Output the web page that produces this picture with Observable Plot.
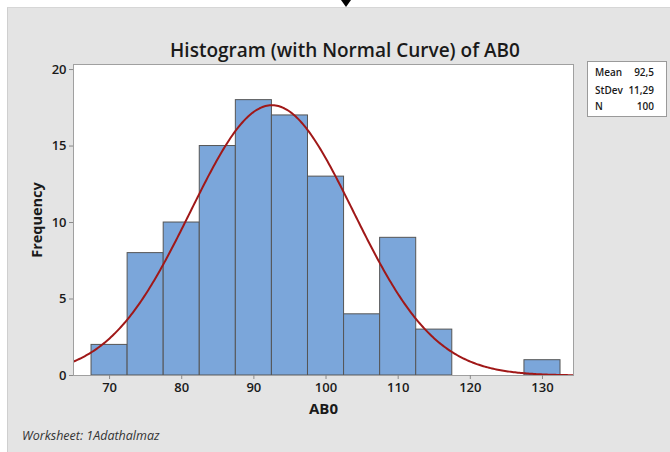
<!DOCTYPE html>
<html><head><meta charset="utf-8">
<script src="https://cdn.jsdelivr.net/npm/d3@7"></script>
<script src="https://cdn.jsdelivr.net/npm/@observablehq/plot@0.6"></script>
<style>
body{margin:0;background:#fff;width:670px;height:452px;overflow:hidden;position:relative;font-family:"Open Sans",sans-serif;}
#panel{position:absolute;left:7px;top:7px;right:0;bottom:0;background:#e4e4e4;border-left:1px solid #cfcfcf;border-top:1px solid #d6d6d6;}
#tri{position:absolute;left:341px;top:0;width:0;height:0;border-left:5px solid transparent;border-right:5px solid transparent;border-top:7px solid #000;}
#title{position:absolute;left:0;width:690px;top:41px;text-align:center;font-size:19px;font-weight:600;line-height:1;color:#1a1a1a;}
#chart{position:absolute;left:0;top:0;}
#chart g[aria-label$="tick label"]{font-size:13px;font-weight:600;}
#legend{position:absolute;left:587px;top:61px;width:78px;height:54px;background:#fff;border:1px solid #9a9a9a;}
.lr{position:absolute;font-size:10px;font-weight:600;line-height:1;color:#1a1a1a;}
.lk{left:7px;}
.lv{right:12px;text-align:right;}
#ws{position:absolute;left:22px;top:430px;font-size:12.5px;font-style:italic;line-height:1;color:#333;}
</style></head>
<body>
<div id="panel"></div>
<div id="tri"></div>
<div id="title">Histogram (with Normal Curve) of AB0</div>
<div id="chart"></div>
<div id="legend"></div>
<div id="ws">Worksheet: 1Adathalmaz</div>
<script>
const binMids = [70, 75, 80, 85, 90, 95, 100, 105, 110, 115, 120, 125, 130];
const counts  = [2, 8, 10, 15, 18, 17, 13, 4, 9, 3, 0, 0, 1];
const binWidth = 5;
const statLabels = ["Mean", "StDev", "N"];
const statValues = ["92,5", "11,29", "100"];
const MEAN = 92.5, STDEV = 11.29, N = 100;
const xTicks = [70, 80, 90, 100, 110, 120, 130];
const yTicks = [0, 5, 10, 15, 20];

const bins = binMids.map((m, i) => ({x1: m - binWidth / 2, x2: m + binWidth / 2, count: counts[i]})).filter(d => d.count > 0);

const curve = d3.range(65, 134.41, 0.2).map(x => ({
  x, y: N * binWidth * Math.exp(-0.5 * ((x - MEAN) / STDEV) ** 2) / (STDEV * Math.sqrt(2 * Math.PI))
}));

const chart = Plot.plot({
  width: 670, height: 452,
  marginLeft: 73, marginRight: 97, marginTop: 64, marginBottom: 77,
  style: {background: "transparent", color: "#1a1a1a", fontFamily: "Open Sans, sans-serif", overflow: "visible"},
  x: {domain: [65, 134.3]},
  y: {domain: [0, 20.33]},
  marks: [
    Plot.frame({fill: "white", stroke: "none"}),
    Plot.rectY(bins, {x1: "x1", x2: "x2", y: "count", fill: "#7ba6da", stroke: "#555555", strokeWidth: 1}),
    Plot.line(curve, {x: "x", y: "y", stroke: "#a01818", strokeWidth: 2, clip: true, curve: "linear"}),
    Plot.frame({stroke: "#a0a0a0", strokeWidth: 1}),
    Plot.axisX({ticks: xTicks, tickSize: 4, tickPadding: 3, stroke: "#8a8a8a", fill: "#1a1a1a", label: null}),
    Plot.axisY({ticks: yTicks, tickSize: 4, tickPadding: 3, stroke: "#8a8a8a", fill: "#1a1a1a", label: null}),
    Plot.text(["AB0"], {frameAnchor: "bottom", dy: 34, lineAnchor: "middle", fontSize: 15, fontWeight: "bold", fill: "#1a1a1a"}),
    Plot.text(["Frequency"], {frameAnchor: "left", dx: -36.5, rotate: -90, textAnchor: "middle", lineAnchor: "middle", fontSize: 14.5, fontWeight: "bold", fill: "#1a1a1a"})
  ]
});
document.getElementById("chart").appendChild(chart);

const legend = document.getElementById("legend");
const tops = [5, 23, 39];
statLabels.forEach((k, i) => {
  const a = document.createElement("div");
  a.className = "lr lk"; a.style.top = tops[i] + "px"; a.textContent = k;
  const b = document.createElement("div");
  b.className = "lr lv"; b.style.top = tops[i] + "px"; b.textContent = statValues[i];
  legend.appendChild(a); legend.appendChild(b);
});
</script>
</body></html>
